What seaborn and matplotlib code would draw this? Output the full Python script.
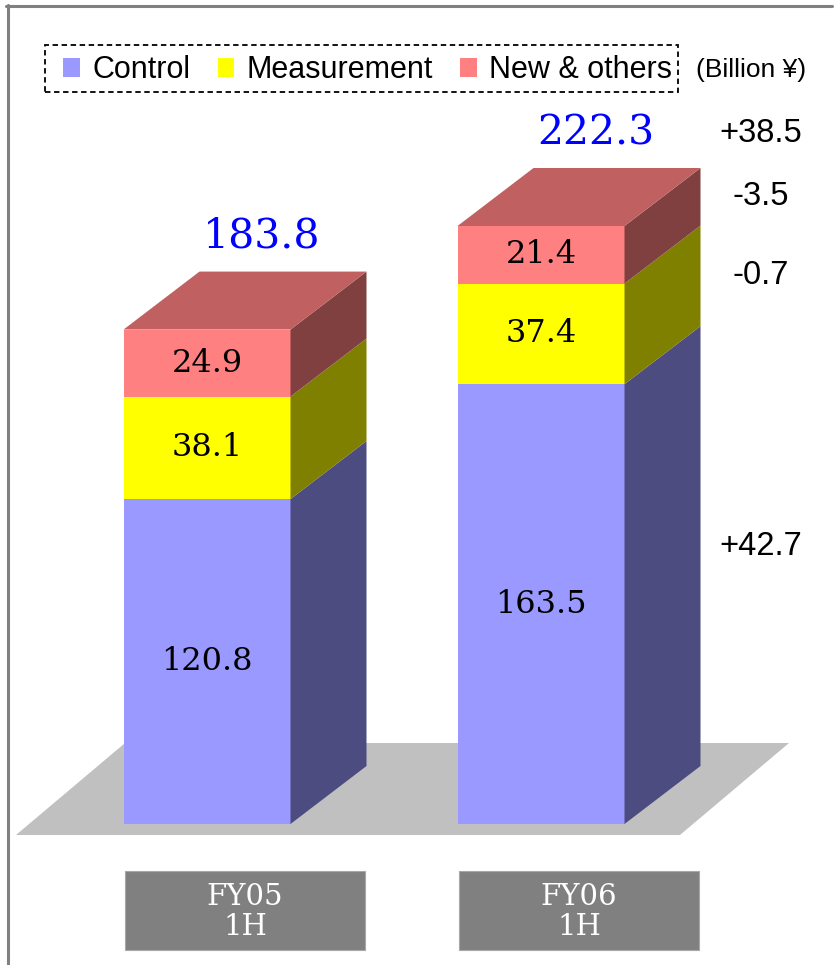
import matplotlib
matplotlib.use("Agg")
import matplotlib.pyplot as plt
from matplotlib.lines import Line2D
from matplotlib.patches import Patch, Polygon, Rectangle
import seaborn as sns

# --------------------------------------------------------------------------- #
# Data (Billion yen)
# --------------------------------------------------------------------------- #
periods = ["FY05\n1H", "FY06\n1H"]
segments = ["Control", "Measurement", "New & others"]
control = [120.8, 163.5]
measurement = [38.1, 37.4]
new_others = [24.9, 21.4]
totals = [183.8, 222.3]
changes = [42.7, -0.7, -3.5]   # FY06 vs FY05, per segment
total_change = 38.5
unit_label = "(Billion ¥)"

front_colors = ["#9999FF", "#FFFF00", "#FF8080"]
side_colors = ["#4C4C80", "#808000", "#804040"]
top_color = "#C06060"

# --------------------------------------------------------------------------- #
# Layout (pixel based, figure is 836x965 at 100 dpi)
# --------------------------------------------------------------------------- #
W, H, DPI = 836, 965, 100
BASE_PX = 824          # y pixel of value 0
PX_PER_UNIT = 2.69     # pixels per billion yen
X0_PX = 207            # x pixel of first category
PX_PER_CAT = 334       # pixels between categories
BAR_W = 0.5
DX = 76 / PX_PER_CAT   # 3D depth offset (data units)
DY = 58 / PX_PER_UNIT

SERIF = ["DejaVu Serif"]
SANS = ["Liberation Sans", "DejaVu Sans"]

sns.set_theme(style="white")
plt.rcParams["font.family"] = SANS
plt.rcParams["text.color"] = "black"

fig = plt.figure(figsize=(W / DPI, H / DPI), dpi=DPI)
ax = fig.add_axes([0, 0, 1, 1])

# floor
floor = Polygon([(-0.572, -4.1), (1.416, -4.1), (1.7425, 30.1), (-0.2455, 30.1)],
                closed=True, facecolor="#C0C0C0", edgecolor="none", zorder=1)
ax.add_patch(floor)

# stacked front faces: draw cumulative totals from the top layer down
series = [control, measurement, new_others]
cum = []
running = [0.0] * len(periods)
for s in series:
    running = [r + v for r, v in zip(running, s)]
    cum.append(list(running))

for k in reversed(range(len(series))):
    sns.barplot(x=periods, y=cum[k], color=front_colors[k], width=BAR_W,
                saturation=1, linewidth=0, ax=ax, zorder=3)

# side and top faces
for i in range(len(periods)):
    x0 = i - BAR_W / 2
    x1 = i + BAR_W / 2
    bottom = 0.0
    for k, s in enumerate(series):
        top = bottom + s[i]
        side = Polygon([(x1, bottom), (x1 + DX, bottom + DY),
                        (x1 + DX, top + DY), (x1, top)],
                       closed=True, facecolor=side_colors[k], edgecolor="none", zorder=3)
        ax.add_patch(side)
        ax.text(i, (bottom + top) / 2, f"{s[i]:.1f}", ha="center", va="center",
                fontsize=23, family=SERIF, color="black", zorder=5)
        bottom = top
    lid = Polygon([(x0, bottom), (x1, bottom), (x1 + DX, bottom + DY), (x0 + DX, bottom + DY)],
                  closed=True, facecolor=top_color, edgecolor="none", zorder=3)
    ax.add_patch(lid)
    ax.text(i + 0.165, totals[i] + DY + 13, f"{totals[i]:.1f}", ha="center", va="center",
            fontsize=29.5, family=SERIF, color="#0000FF", zorder=5)

    # category box
    ax.add_patch(Rectangle((x0 + 0.005, -46.8), BAR_W + DX - 0.01, 29.3, facecolor="#808080",
                           edgecolor="#A8A8A8", linewidth=0.8, zorder=2))
    ax.text(i + DX / 2, -32.6, periods[i], ha="center", va="center", color="white",
            fontsize=21, family=SERIF, linespacing=1.1, zorder=5)

# change annotations to the right of FY06
x_note = (761 - X0_PX) / PX_PER_CAT
bottom = 0.0
for k, s in enumerate(series):
    top = bottom + s[1]
    ax.text(x_note, (bottom + top) / 2 + DY, f"{changes[k]:+.1f}", ha="center", va="center",
            fontsize=23.5, color="black")
    bottom = top
ax.text(x_note, totals[1] + DY + 13, f"{total_change:+.1f}", ha="center", va="center",
        fontsize=23.5, color="black")

ax.set_xlim(-X0_PX / PX_PER_CAT, (W - X0_PX) / PX_PER_CAT)
ax.set_ylim(-(H - BASE_PX) / PX_PER_UNIT, BASE_PX / PX_PER_UNIT)
ax.axis("off")

# legend (dashed frame drawn separately so the padding matches)
handles = [Patch(facecolor=c, edgecolor="none") for c in front_colors]
fig.legend(handles, segments, loc="center left", bbox_to_anchor=(63 / W, 1 - 70 / H),
           ncol=3, frameon=False, borderaxespad=0, borderpad=0, labelcolor="black",
           prop={"family": SANS, "size": 22}, handlelength=0.55, handleheight=0.6,
           handletextpad=0.4, columnspacing=0.9)
fig.add_artist(Rectangle((45 / W, 1 - 92 / H), 633 / W, 47 / H, transform=fig.transFigure,
                         facecolor="none", edgecolor="black", linewidth=1.3,
                         linestyle=(0, (3, 2))))
fig.text(751 / W, 1 - 70 / H, unit_label, ha="center", va="center", fontsize=19,
         family=SANS, color="black")

# outer frame (left and top only)
fig.add_artist(Line2D([7.5 / W, 7.5 / W], [0, 1 - 5 / H], color="#808080", linewidth=2.2))
fig.add_artist(Line2D([6 / W, 832 / W], [1 - 6 / H, 1 - 6 / H], color="#808080", linewidth=2.2))

fig.savefig("out.png", dpi=DPI)
